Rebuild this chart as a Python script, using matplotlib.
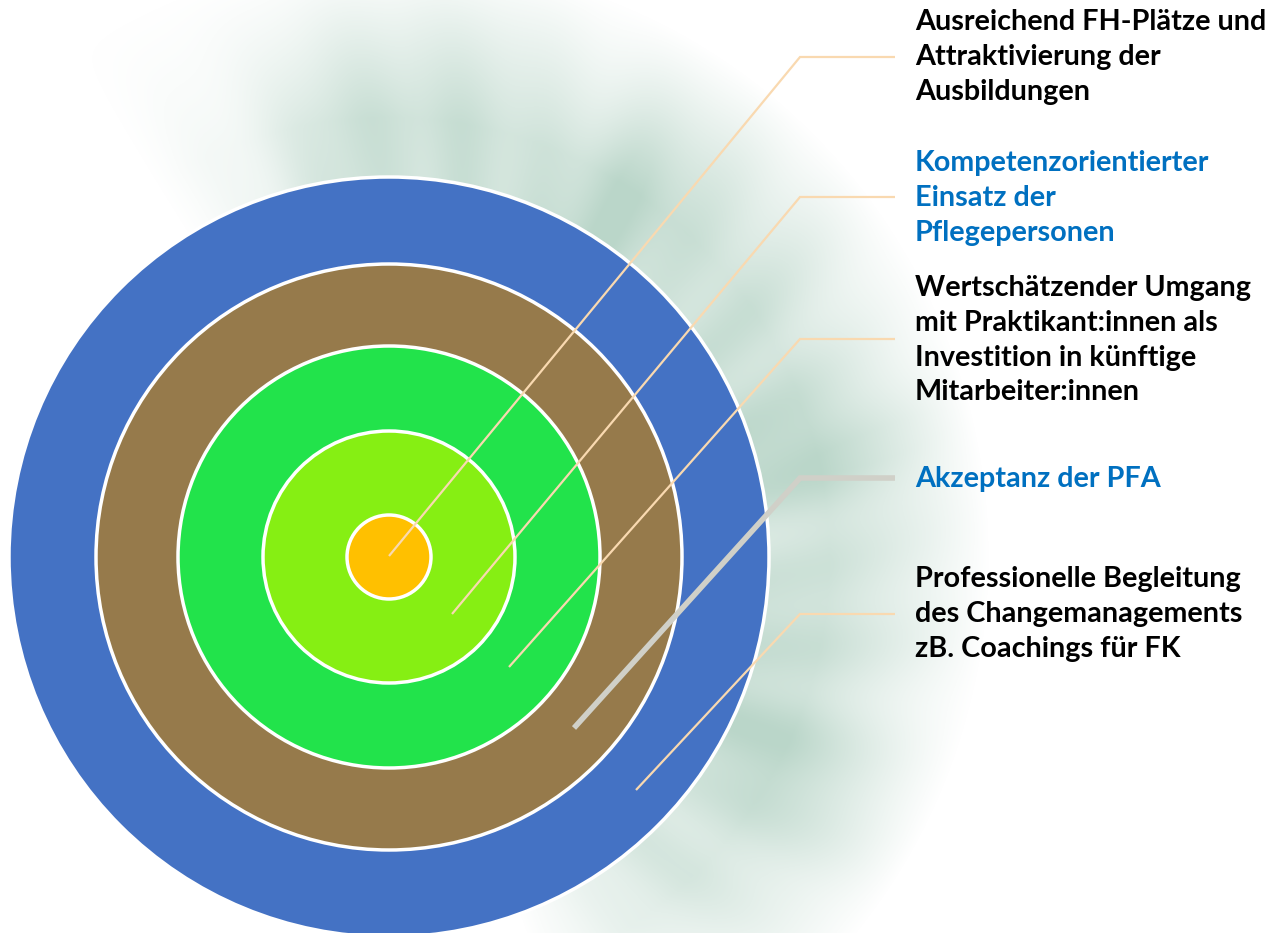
import numpy as np
import matplotlib.pyplot as plt
from matplotlib.patches import Circle

# ring colours from outside to inside, with their radii (pixels)
ring_colors = ['#4472C4', '#967A4B', '#22E34B', '#86EF13', '#FFC000']
ring_radii = [380, 293, 211, 126, 42]
center = (389, 557)

labels = [
    'Ausreichend FH-Plätze und\nAttraktivierung der\nAusbildungen',
    'Kompetenzorientierter\nEinsatz der\nPflegepersonen',
    'Wertschätzender Umgang\nmit Praktikant:innen als\nInvestition in künftige\nMitarbeiter:innen',
    'Akzeptanz der PFA',
    'Professionelle Begleitung\ndes Changemanagements\nzB. Coachings für FK',
]
label_colors = ['black', '#0070C0', 'black', '#0070C0', 'black']
label_top = [9, 150, 275, 466, 566]

# leader lines: start point inside the target, elbow, end of horizontal
line_start = [(389, 556), (452, 614), (509, 667), (574, 728), (636, 790)]
line_y = [57, 197, 339, 478, 614]
line_colors = ['#F9D9B0', '#F9D9B0', '#F9D9B0', '#D0D0C8', '#F9D9B0']
line_widths = [1.6, 1.6, 1.6, 4.0, 1.6]

W, H = 1272, 933
fig = plt.figure(figsize=(W / 100, H / 100), dpi=100)
ax = fig.add_axes([0, 0, 1, 1])
ax.set_xlim(0, W)
ax.set_ylim(H, 0)
ax.axis('off')

# soft green haze behind the target
yy, xx = np.mgrid[0:H, 0:W]
dx = xx - center[0]
dy = center[1] - yy
r = np.hypot(dx, dy)
th = np.degrees(np.arctan2(dy, dx))
t = np.radians(th)
streaks = (0.78 + 0.12 * np.cos(9 * t + 0.8 + r / 140) + 0.08 * np.cos(17 * t + 2.1)
           + 0.07 * np.cos(31 * t + 0.3 - r / 70))
streaks = np.clip(streaks, 0, 1)
radial = np.clip((600 - r) / 160, 0, 1)
angular = np.clip((th + 70) / 30, 0, 1) * np.clip((122 - th) / 35, 0, 1)
alpha = streaks * radial * angular
bg = np.zeros((H, W, 4))
bg[..., 0] = 0.73
bg[..., 1] = 0.84
bg[..., 2] = 0.79
bg[..., 3] = np.clip(alpha, 0, 1)
ax.imshow(bg, extent=(0, W, H, 0), zorder=0, interpolation='bilinear')

for rad, col in zip(ring_radii, ring_colors):
    ax.add_patch(Circle(center, rad, facecolor=col, edgecolor='white', lw=2.5, zorder=2))

for (x0, y0), ly, lc, lw in zip(line_start, line_y, line_colors, line_widths):
    ax.plot([x0, 800, 895], [y0, ly, ly], color=lc, lw=lw, zorder=3,
            solid_capstyle='butt', solid_joinstyle='miter')

for txt, col, top in zip(labels, label_colors, label_top):
    ax.text(915, top, txt, color=col, fontsize=20.7, fontweight='bold',
            family='Lato', va='top', ha='left', linespacing=1.42, zorder=4)

fig.savefig('out.png', dpi=100)
